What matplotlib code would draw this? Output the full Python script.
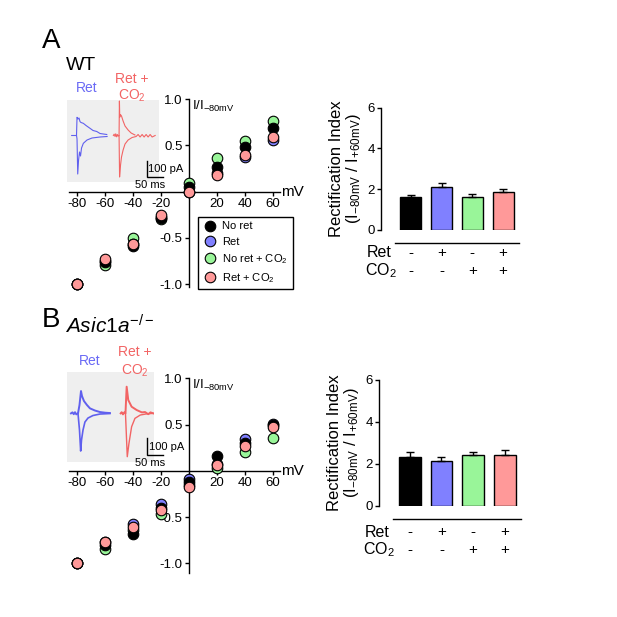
import matplotlib
matplotlib.use("Agg")
import matplotlib.pyplot as plt
from matplotlib.lines import Line2D

plt.rcParams["font.family"] = ["Liberation Sans", "DejaVu Sans"]
plt.rcParams["axes.unicode_minus"] = False
plt.rcParams["mathtext.fontset"] = "custom"
plt.rcParams["mathtext.rm"] = "Liberation Sans"
plt.rcParams["mathtext.it"] = "Liberation Sans:italic"
plt.rcParams["mathtext.default"] = "regular"

# ---- data -------------------------------------------------------------
mv = [-80, -60, -40, -20, 0, 20, 40, 60]
groups = ["No ret", "Ret", "No ret + CO$_2$", "Ret + CO$_2$"]
colors = ["#000000", "#8080ff", "#99f599", "#ff9999"]

# I/I-80mV, WT
wt_iv = {
    "No ret": [-1.0, -0.76, -0.59, -0.28, 0.05, 0.27, 0.48, 0.69],
    "Ret": [-1.0, -0.75, -0.57, -0.27, 0.0, 0.20, 0.37, 0.56],
    "No ret + CO$_2$": [-1.0, -0.79, -0.50, -0.30, 0.09, 0.36, 0.55, 0.76],
    "Ret + CO$_2$": [-1.0, -0.73, -0.57, -0.25, 0.0, 0.18, 0.40, 0.59],
}
wt_err = [0.0, 0.03, 0.03, 0.02, 0.02, 0.02, 0.02, 0.03]

# I/I-80mV, Asic1a-/-
ko_iv = {
    "No ret": [-1.0, -0.80, -0.68, -0.40, -0.125, 0.16, 0.30, 0.49],
    "Ret": [-1.0, -0.77, -0.57, -0.36, -0.09, 0.07, 0.34, 0.51],
    "No ret + CO$_2$": [-1.0, -0.85, -0.64, -0.47, -0.15, 0.035, 0.20, 0.36],
    "Ret + CO$_2$": [-1.0, -0.77, -0.61, -0.42, -0.18, 0.065, 0.27, 0.47],
}
ko_err = [0.0, 0.02, 0.02, 0.02, 0.02, 0.02, 0.02, 0.02]

# rectification index (I-80mV / I+60mV)
wt_ri = [1.63, 2.09, 1.62, 1.88]
wt_ri_err = [0.11, 0.22, 0.17, 0.14]
ko_ri = [2.35, 2.16, 2.42, 2.43]
ko_ri_err = [0.21, 0.16, 0.16, 0.24]
ret_signs = ["-", "+", "-", "+"]
co2_signs = ["-", "-", "+", "+"]

# example current traces (ms, pA)
wt_ret_up_t = [15.6, 30.6, 32.2, 35.3, 38.4, 41.6, 44.7, 51.9, 60.3, 72.8, 82.2, 93.8, 104, 125]
wt_ret_up_i = [0, 0, 109, 99, 105, 83, 78, 73, 60, 43, 30, 24, 12, 6]
wt_ret_lo_t = [30.6, 32.2, 34.4, 37, 40, 43.1, 46.3, 51.9, 63.4, 79, 104, 126]
wt_ret_lo_i = [0, -20, -231, -147, -99, -123, -75, -47, -27, -15, -9, -6]
wt_co2_up_t = [145.6, 148, 151, 153, 156, 158, 161, 163.4, 164.5, 165.5, 168, 171, 176, 182, 191.6, 201, 213]
wt_co2_up_i = [0, 8, -6, 10, -8, 6, -4, 0, 207, 110, 125, 117, 87, 57, 33, 15, 3]
wt_co2_lo_t = [163.4, 165, 168, 171, 176, 182, 191.6, 204, 216.6, 222.8, 229, 235.3, 241.6,
               247.8, 254, 260.3, 266.6, 276]
wt_co2_lo_i = [0, -249, -177, -129, -87, -51, -27, -12, -6, 6, -9, 6, -9, 6, -9, 6, -9, 0]

ko_ret_up_t = [13.4, 18, 22, 26, 30, 35.3, 40, 44.7, 47.8, 54, 63.4, 72.8, 88.4, 104, 120, 135]
ko_ret_up_i = [0, 6, -5, 7, -6, 0, 50, 134, 104, 74, 50, 30, 17, 8, 4, 2]
ko_ret_lo_t = [35.3, 40, 43.7, 46.3, 51, 57, 66.6, 82, 104, 135]
ko_ret_lo_i = [0, -100, -226, -160, -100, -52, -28, -13, -4, -1]
ko_co2_up_t = [168.8, 172, 176, 180, 183.8, 187.5, 192.5, 203, 218.8, 235, 245, 255, 262, 270.6]
ko_co2_up_i = [0, 7, -6, 6, 0, 160, 80, 40, 20, 6, 8, -5, 6, 0]
ko_co2_lo_t = [183.8, 189.4, 194.7, 203, 213.4, 230, 250, 270.6]
ko_co2_lo_i = [0, -260, -180, -80, -30, -10, -3, 0]

W = 617
fig = plt.figure(figsize=(6.17, 6.17), dpi=100)


def px_axes(x0, y0, x1, y1):
    return fig.add_axes([x0 / W, 1 - y1 / W, (x1 - x0) / W, (y1 - y0) / W])


def px_text(x, y, s, **kw):
    fig.text(x / W, 1 - y / W, s, **kw)


def iv_panel(box, ylo, data, err, legend=False):
    ax = px_axes(*box)
    ax.set_xlim(-85.5, 65.2)
    ax.set_ylim(ylo, 1.0)
    ax.patch.set_visible(False)
    for s in ("top", "right"):
        ax.spines[s].set_visible(False)
    ax.spines["left"].set_position(("data", 0))
    ax.spines["bottom"].set_position(("data", 0))
    for s in ("left", "bottom"):
        ax.spines[s].set_linewidth(1.0)
    ax.set_xticks([-80, -60, -40, -20, 20, 40, 60])
    ax.set_xticklabels(["-80", "-60", "-40", "-20", "20", "40", "60"])
    ax.set_yticks([-1.0, -0.5, 0.5, 1.0])
    ax.set_yticklabels(["-1.0", "-0.5", "0.5", "1.0"])
    ax.tick_params(length=3, width=1.0, labelsize=9.5, pad=1.5)
    order = [2, 1, 0, 3]
    for z, k in enumerate(order):
        name = groups[k]
        h = ax.errorbar(mv, data[name], yerr=err, fmt="o", ms=7.6, mfc=colors[k],
                        mec="black", mew=0.8, ecolor="black", elinewidth=0.8,
                        capsize=0, zorder=4 + z, clip_on=False)
        for a in h.get_children():
            a.set_clip_on(False)
    ax.text(2.5, 1.0, "I/I$_{-80mV}$", fontsize=9.5, va="top", ha="left")
    ax.text(65.8, 0.0, "mV", fontsize=11, va="center", ha="left")
    if legend:
        hs = [Line2D([], [], ls="none", marker="o", ms=7.6, mfc=c, mec="black", mew=0.8)
              for c in colors]
        fig.legend(hs, groups, loc="upper left", bbox_to_anchor=(198 / W, 1 - 217 / W),
                   borderaxespad=0, fontsize=8, frameon=True, fancybox=False,
                   edgecolor="black", handletextpad=0.5, labelspacing=0.48,
                   borderpad=0.4, handlelength=1.3, framealpha=1)
    return ax


def bar_panel(box, vals, errs, line_y, ret_y, co2_y):
    ax = px_axes(*box)
    x = range(len(vals))
    ax.bar(x, vals, width=0.68, color=colors, edgecolor="black", linewidth=1.0,
           yerr=[[0] * len(errs), errs], error_kw=dict(ecolor="black", elinewidth=1.0,
                                                       capsize=3, capthick=1.0))
    ax.set_xlim(-0.97, 3.5)
    ax.set_ylim(0, 6)
    ax.patch.set_visible(False)
    for s in ("top", "right", "bottom"):
        ax.spines[s].set_visible(False)
    ax.spines["left"].set_linewidth(1.0)
    ax.set_xticks([])
    ax.set_yticks([0, 2, 4, 6])
    ax.tick_params(axis="y", length=3, width=1.0, labelsize=9.5, pad=1.5)
    ax.set_ylabel("Rectification Index\n(I$_{-80mV}$ / I$_{+60mV}$)", fontsize=12,
                  labelpad=3, linespacing=1.0)
    ax.plot([-0.53, 3.5], [line_y, line_y], color="black", lw=1.0, clip_on=False)
    ax.text(-0.62, ret_y, "Ret", fontsize=11.5, ha="right", va="center")
    ax.text(-0.46, co2_y, "CO$_2$", fontsize=11.5, ha="right", va="center")
    for i in x:
        ax.text(i, ret_y, ret_signs[i], fontsize=11, ha="center", va="center")
        ax.text(i, co2_y, co2_signs[i], fontsize=11, ha="center", va="center")
    return ax


def trace_inset(box, xmax, ylo, yhi, traces, bar_x, bar_y):
    ax = px_axes(*box)
    ax.set_facecolor("#efefef")
    for s in ax.spines.values():
        s.set_visible(False)
    ax.set_xticks([])
    ax.set_yticks([])
    ax.set_xlim(0, xmax)
    ax.set_ylim(ylo, yhi)
    for t, i, c, lw in traces:
        ax.plot(t, i, color=c, lw=lw)
    # scale bar: 100 pA, 50 ms
    ax.plot([bar_x, bar_x, bar_x + 50], [bar_y + 100, bar_y, bar_y], color="black",
            lw=1.0, clip_on=False, solid_joinstyle="miter")
    ax.text(bar_x + 4, bar_y + 50, "100 pA", fontsize=8, va="center", ha="left")
    ax.text(bar_x + 10, bar_y - 20, "50 ms", fontsize=8, va="top", ha="center")
    return ax


BLUE_T = "#6060ee"
RED_T = "#f26464"

# ---- panel A ----------------------------------------------------------
trace_inset((66.7, 100, 159, 182), 288, -279, 213,
            [(wt_ret_up_t, wt_ret_up_i, BLUE_T, 0.8), (wt_ret_lo_t, wt_ret_lo_i, BLUE_T, 0.8),
             (wt_co2_up_t, wt_co2_up_i, RED_T, 0.8), (wt_co2_lo_t, wt_co2_lo_i, RED_T, 0.8)],
            250, -250)
iv_panel((69, 99, 280, 287.1), -1.03, wt_iv, wt_err, legend=True)
bar_panel((381, 107.7, 518.5, 230), wt_ri, wt_ri_err, -0.64, -1.11, -1.99)

px_text(42, 48, "A", fontsize=20, ha="left", va="baseline")
px_text(66, 70, "WT", fontsize=14, ha="left", va="baseline")
px_text(86.7, 88, "Ret", fontsize=10, color="#6a6af5", ha="center", va="center")
px_text(131.7, 79, "Ret +", fontsize=10, color="#f26464", ha="center", va="center")
px_text(131.7, 96, "CO$_2$", fontsize=10, color="#f26464", ha="center", va="center")

# ---- panel B ----------------------------------------------------------
trace_inset((66.7, 371.7, 154, 461.7), 273, -290, 250,
            [(ko_ret_up_t, ko_ret_up_i, BLUE_T, 1.4), (ko_ret_lo_t, ko_ret_lo_i, BLUE_T, 1.2),
             (ko_co2_up_t, ko_co2_up_i, RED_T, 1.4), (ko_co2_lo_t, ko_co2_lo_i, RED_T, 1.0)],
            252, -250)
iv_panel((69, 378.3, 280, 572.6), -1.1, ko_iv, ko_err)
bar_panel((379, 380, 520.7, 506), ko_ri, ko_ri_err, -0.63, -1.25, -2.1)

px_text(42, 327, "B", fontsize=20, ha="left", va="baseline")
px_text(65, 333, "$\\mathit{Asic1a}^{-/-}$", fontsize=15, ha="left", va="baseline")
px_text(90, 361, "Ret", fontsize=10, color="#6a6af5", ha="center", va="center")
px_text(135, 352, "Ret +", fontsize=10, color="#f26464", ha="center", va="center")
px_text(135, 371, "CO$_2$", fontsize=10, color="#f26464", ha="center", va="center")

fig.savefig("out.png", dpi=100)
